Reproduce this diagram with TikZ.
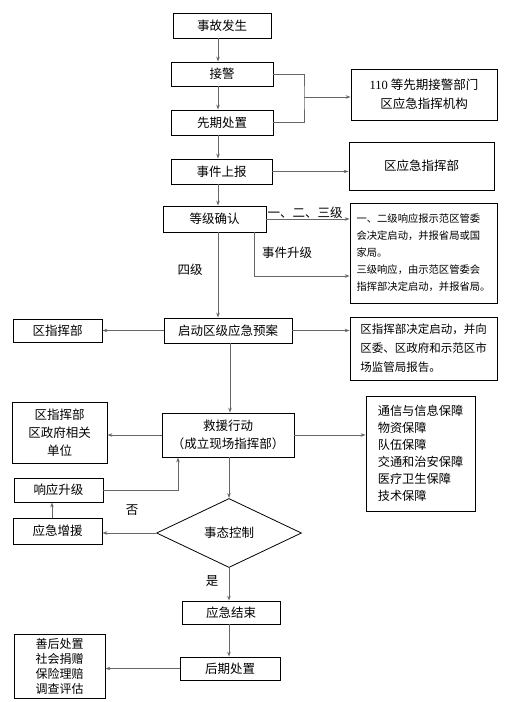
\documentclass[tikz,border=0pt]{standalone}
\usepackage{fontspec}
\setmainfont{Noto Sans CJK SC}
\newfontfamily\latinserif{Liberation Serif}
\usetikzlibrary{shapes.geometric,arrows.meta}
\begin{document}
\begin{tikzpicture}[x=1pt,y=-1pt,
  box/.style={draw=black,line width=0.8pt,inner sep=0pt,align=center,font=\fontsize{12.5}{18}\selectfont},
  conn/.style={draw=black!60,line width=1pt},
  arr/.style={conn,-{Stealth[length=5pt,width=3.5pt]}},
  lbl/.style={font=\fontsize{12.5}{15}\selectfont,inner sep=0pt}]
\useasboundingbox (0,0) rectangle (510,702);
\fill[white] (0,0) rectangle (510,702);

% main column
\node[box,minimum width=98pt,minimum height=25pt] (n1) at (222,25.5) {事故发生};
\node[box,minimum width=102pt,minimum height=24pt] (n2) at (222,74) {接警};
\node[box,minimum width=102pt,minimum height=25pt] (n3) at (222,122.5) {先期处置};
\node[box,minimum width=101pt,minimum height=25pt] (n4) at (221.5,171.5) {事件上报};
\node[box,minimum width=103pt,minimum height=26pt] (n5) at (214.5,219) {等级确认};
\node[box,minimum width=128pt,minimum height=25pt] (n6) at (228,330.5) {启动区级应急预案};
\node[box,minimum width=132pt,minimum height=44pt] (n7) at (228,435) {救援行动\\（成立现场指挥部）};
\node[draw=black,line width=0.8pt,diamond,minimum width=145pt,minimum height=69pt,inner sep=0pt,font=\fontsize{12.5}{15}\selectfont] (d) at (229,533) {事态控制};
\node[box,minimum width=98pt,minimum height=23pt] (n8) at (231,612.5) {应急结束};
\node[box,minimum width=100pt,minimum height=23pt] (n9) at (230,668.5) {后期处置};

% right column
\node[box,minimum width=146pt,minimum height=51pt,font=\fontsize{12.5}{19}\selectfont] (r1) at (424,94.5) {{\latinserif 110} 等先期接警部门\\区应急指挥机构};
\node[box,minimum width=145pt,minimum height=48pt] (r2) at (421.5,166) {区应急指挥部};
\node[box,minimum width=147pt,minimum height=100pt,align=left,font=\fontsize{10.3}{17}\selectfont] (r3) at (423.5,253)
  {一、二级响应报示范区管委\\会决定启动，并报省局或国\\家局。\\三级响应，由示范区管委会\\指挥部决定启动，并报省局。};
\node[box,minimum width=147pt,minimum height=63pt,align=left,font=\fontsize{11.5}{19}\selectfont] (r4) at (423.5,348.5)
  {区指挥部决定启动，并向\\区委、区政府和示范区市\\场监管局报告。};
\node[box,minimum width=109pt,minimum height=115pt,align=left,font=\fontsize{12.2}{17}\selectfont] (r5) at (420.5,453.5)
  {通信与信息保障\\物资保障\\队伍保障\\交通和治安保障\\医疗卫生保障\\技术保障};

% left column
\node[box,minimum width=89pt,minimum height=23pt] (l1) at (57.5,330.5) {区指挥部};
\node[box,minimum width=95pt,minimum height=61pt] (l2) at (59.5,432.5) {区指挥部\\区政府相关\\单位};
\node[box,minimum width=89pt,minimum height=24pt] (l3) at (58.5,490) {响应升级};
\node[box,minimum width=89pt,minimum height=26pt] (l4) at (57.5,531) {应急增援};
\node[box,minimum width=91pt,minimum height=64pt,font=\fontsize{12}{15}\selectfont] (l5) at (59.5,666) {善后处置\\社会捐赠\\保险理赔\\调查评估};

% helper coordinates
\coordinate (xa) at (218,0);
\coordinate (xb) at (230,0);
\coordinate (xc) at (52,0);
\coordinate (b1) at (304,97);
\coordinate (c2) at (254,276);
\coordinate (c3) at (178,490);

% connectors
\draw[arr] (n1.south -| xa) -- (n2.north -| xa);
\draw[arr] (n2.south -| xa) -- (n3.north -| xa);
\draw[arr] (n3.south -| xa) -- (n4.north -| xa);
\draw[arr] (n4.south -| xa) -- (n5.north -| xa);
\draw[arr] (n5.south -| xa) -- (n6.north -| xa);
\draw[conn] (n2.east) -| (b1) |- (n3.east);
\draw[arr] (b1) -- (b1 -| r1.west);
\draw[arr] (n4.east) -- (n4.east -| r2.west);
\draw[arr] (n5.east) -- (n5.east -| r3.west);
\node[lbl] (t1) at (305,213) {一、二、三级};
\draw[arr] (n5.south -| c2) |- (c2 -| r3.west);
\node[lbl] (t2) at (287,253) {事件升级};
\node[lbl] (t3) at (190,270) {四级};
\draw[arr] (n6.west) -- (l1.east);
\draw[arr] (n6.east) -- (n6.east -| r4.west);
\draw[arr] (n6.south -| xb) -- (n7.north -| xb);
\draw[arr] (n7.west) -- (n7.west -| l2.east);
\draw[arr] (n7.east) -- (n7.east -| r5.west);
\draw[arr] (l3.east) -| (n7.south -| c3);
\draw[arr] (l4.north -| xc) -- (l3.south -| xc);
\draw[arr] (n7.south -| d.north) -- (d.north);
\draw[arr] (d.west) -- (d.west -| l4.east);
\node[lbl] (t4) at (132,510) {否};
\draw[arr] (d.south) -- (n8.north -| d.south);
\node[lbl] (t5) at (212,581) {是};
\draw[arr] (n8.south -| d.south) -- (n9.north -| d.south);
\draw[arr] (n9.west) -- (n9.west -| l5.east);
\end{tikzpicture}
\end{document}
